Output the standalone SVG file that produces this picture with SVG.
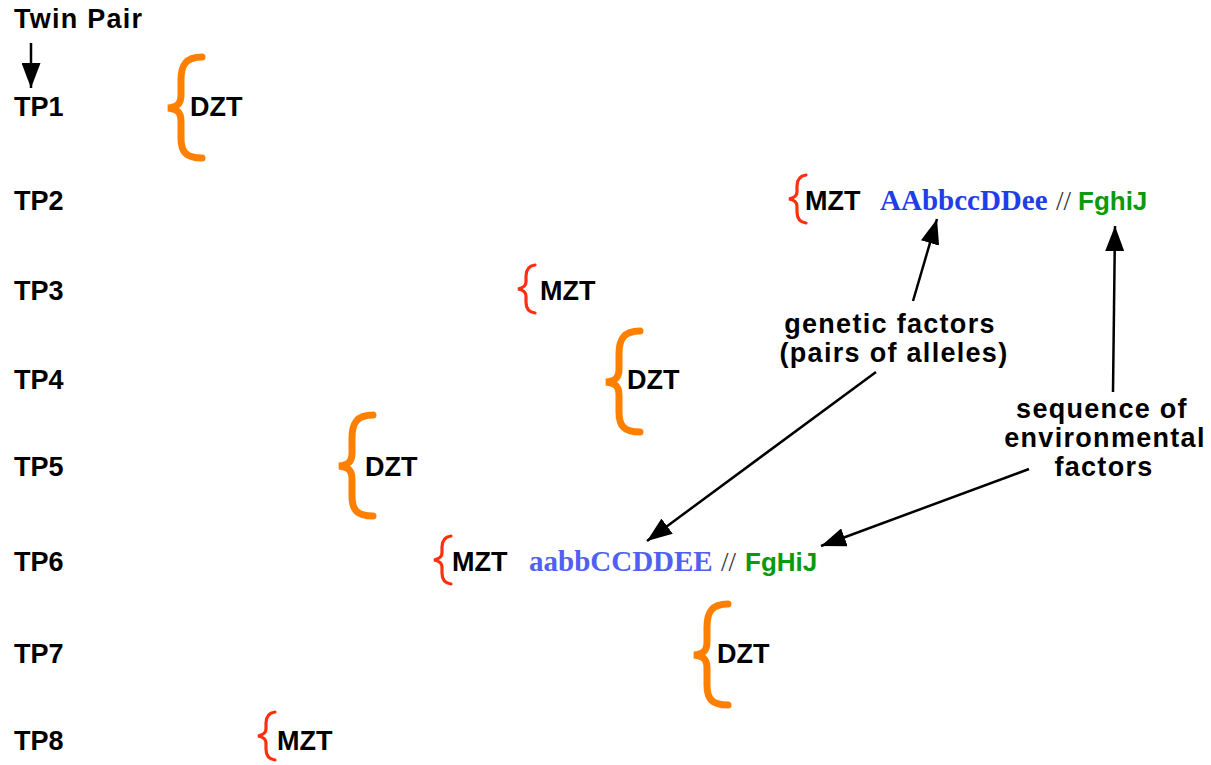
<svg xmlns="http://www.w3.org/2000/svg" width="1211" height="765" viewBox="0 0 1211 765">
<style>
.lbl{font-family:"Liberation Sans",Arial,sans-serif;font-weight:bold;font-size:27px;fill:#000}
.ann{letter-spacing:1.3px}
.gen{font-family:"Liberation Serif","Times New Roman",serif;font-weight:bold;font-size:29px}
.sl{font-family:"Liberation Serif","Times New Roman",serif;font-size:27px;fill:#333}
.env{font-family:"Liberation Sans",Arial,sans-serif;font-weight:bold;font-size:26px;fill:#0a9a0a}
.dz{fill:none;stroke:#FF8000;stroke-width:7;stroke-linecap:round}
.mz{fill:none;stroke:#FF3010;stroke-width:3.2;stroke-linecap:round}
.conn{stroke:#000;stroke-width:2.5;fill:none}
</style>
<defs>
<marker id="ah" viewBox="0 0 10 7.6" refX="10" refY="3.8" markerWidth="10" markerHeight="7.6" orient="auto" markerUnits="strokeWidth">
<path d="M0,0 L10,3.8 L0,7.6 z" fill="#000"/>
</marker>
<path id="bigbrace" d="M36,4 C20,4 15,12 15,27 L15,42 C15,51 11,54 2,55 C11,56 15,59 15,68 L15,85 C15,99 20,105 36,105"/>
<path id="smallbrace" d="M18,2 C11,3 9,7 9,13 L9,19 C9,23 6,25 1,26 C6,27 9,29 9,33 L9,39 C9,45 11,49 18,50"/>
</defs>
<g id="header">
<text class="lbl" x="14" y="28" textLength="128">Twin Pair</text>
</g>
<g id="tp-labels">
<text class="lbl" x="14" y="116">TP1</text>
<text class="lbl" x="14" y="210">TP2</text>
<text class="lbl" x="14" y="300">TP3</text>
<text class="lbl" x="14" y="389">TP4</text>
<text class="lbl" x="14" y="476">TP5</text>
<text class="lbl" x="14" y="571">TP6</text>
<text class="lbl" x="14" y="663">TP7</text>
<text class="lbl" x="14" y="750">TP8</text>
</g>
<g id="tp1"><use href="#bigbrace" class="dz" x="166" y="53"/><text class="lbl" x="190" y="116">DZT</text></g>
<g id="tp2"><use href="#smallbrace" class="mz" x="788" y="173"/><text class="lbl" x="805" y="210">MZT</text>
<text class="gen" x="880" y="210" fill="#1f3ee8">AAbbccDDee</text>
<text class="sl" x="1056" y="210">//</text>
<text class="env" x="1078" y="210">FghiJ</text></g>
<g id="tp3"><use href="#smallbrace" class="mz" x="517" y="263"/><text class="lbl" x="540" y="300">MZT</text></g>
<g id="tp4"><use href="#bigbrace" class="dz" x="604" y="327"/><text class="lbl" x="627" y="389">DZT</text></g>
<g id="tp5"><use href="#bigbrace" class="dz" x="337" y="411"/><text class="lbl" x="365" y="476">DZT</text></g>
<g id="tp6"><use href="#smallbrace" class="mz" x="433" y="534"/><text class="lbl" x="452" y="571">MZT</text>
<text class="gen" x="529" y="571" fill="#5060f0">aabbCCDDEE</text>
<text class="sl" x="721" y="571">//</text>
<text class="env" x="745" y="571">FgHiJ</text></g>
<g id="tp7"><use href="#bigbrace" class="dz" x="692" y="600"/><text class="lbl" x="717" y="663">DZT</text></g>
<g id="tp8"><use href="#smallbrace" class="mz" x="257" y="710"/><text class="lbl" x="277" y="750">MZT</text></g>
<g id="label-genetic">
<text class="lbl ann" x="890" y="333" text-anchor="middle">genetic factors</text>
<text class="lbl ann" x="894" y="362" text-anchor="middle">(pairs of alleles)</text>
</g>
<g id="label-env">
<text class="lbl ann" x="1102" y="418" text-anchor="middle">sequence of</text>
<text class="lbl ann" x="1105" y="447" text-anchor="middle">environmental</text>
<text class="lbl ann" x="1104" y="476" text-anchor="middle">factors</text>
</g>
<g id="connectors">
<line class="conn" x1="31" y1="43" x2="31" y2="88" marker-end="url(#ah)"/>
<line class="conn" x1="913" y1="301" x2="937" y2="219" marker-end="url(#ah)"/>
<line class="conn" x1="1113" y1="392" x2="1115" y2="226" marker-end="url(#ah)"/>
<line class="conn" x1="876" y1="372" x2="647" y2="541" marker-end="url(#ah)"/>
<line class="conn" x1="1029" y1="469" x2="821" y2="546" marker-end="url(#ah)"/>
</g>
</svg>
